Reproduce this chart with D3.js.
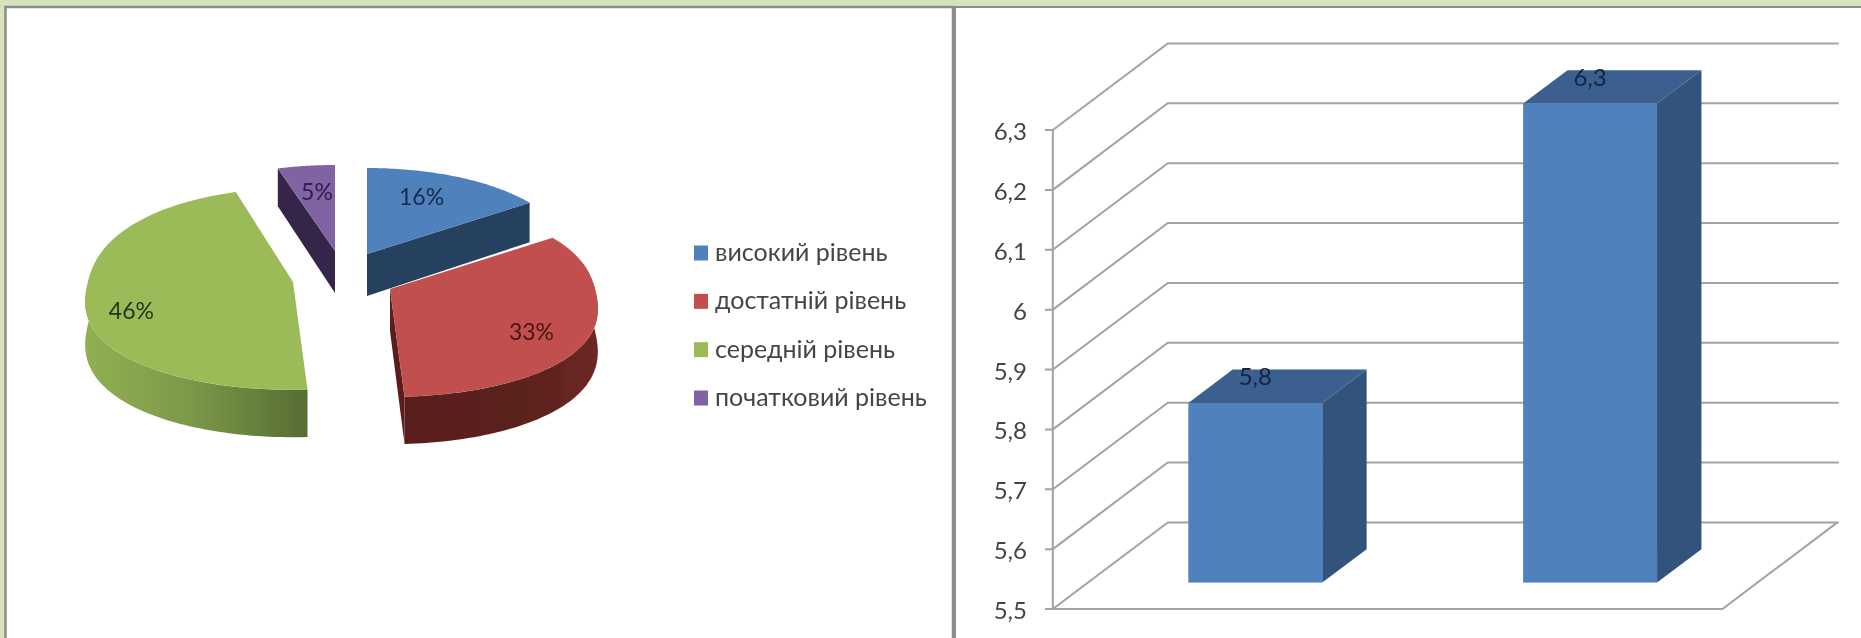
<!DOCTYPE html>
<html><head><meta charset="utf-8">
<script src="https://cdn.jsdelivr.net/npm/d3@7/dist/d3.min.js"></script>
<style>html,body{margin:0;padding:0;background:#d6e3bc;overflow:hidden}svg{display:block}text{font-family:Lato,sans-serif}</style>
</head><body><svg id="c" width="1861" height="638"></svg>
<script>
const pieLabels=["високий рівень","достатній рівень","середній рівень","початковий рівень"];
const pieValues=[16,33,46,5];
const pieText=["16%","33%","46%","5%"];
const pieColors=["#4f81bd","#c0504d","#9bbb59","#8064a2"];
const barCategories=["A","B"];
const barValues=[5.8,6.3];
const barText=["5,8","6,3"];
const axisTicks=[5.5,5.6,5.7,5.8,5.9,6,6.1,6.2,6.3];

const svg=d3.select("#c");
const defs=svg.append("defs");
defs.append("filter").attr("id","soft").attr("x","-5%").attr("y","-5%").attr("width","110%").attr("height","110%")
  .append("feGaussianBlur").attr("stdDeviation",0.75);
const grad=(id,stops)=>{const g=defs.append("linearGradient").attr("id",id);
  stops.forEach(s=>g.append("stop").attr("offset",s[0]).attr("stop-color",s[1]));};
grad("greenWall",[[0,"#91b052"],[0.45,"#7d9a49"],[1,"#556d33"]]);
grad("redWall",[[0,"#5a1f1b"],[0.6,"#5a201c"],[1,"#6e2825"]]);

// panels
svg.append("rect").attr("x",5.5).attr("y",7).attr("width",947.5).attr("height",640).attr("fill","#fff").attr("stroke","#8c8c8c").attr("stroke-width",2.5);
svg.append("rect").attr("x",955).attr("y",7).attr("width",920).attr("height",640).attr("fill","#fff").attr("stroke","#8c8c8c").attr("stroke-width",2);

const root=svg.append("g").attr("filter","url(#soft)");

// ---- pie ----
const RX=205,RY=95.7,P=0.113,DEPTH=42;
const apex=[[367,254],[390,289],[293,282],[335,251]];
const backGain=[1,1,1.09,1];
const arcs=d3.pie().sort(null)(pieValues);
function pt(i,a,r=1,drop=0){
  const u=r*Math.sin(a),c=r*Math.cos(a);
  const v=c>=0?Math.pow(c,0.9):-Math.pow(-c,0.8);
  const w=1+P*v;
  const gain=v>0?backGain[i]:1;
  return [apex[i][0]+RX*u/w, apex[i][1]-gain*RY*v/w+drop*DEPTH/w];
}
const line=d3.line();
function arcPts(i,a0,a1,drop=0){return d3.range(0,61).map(k=>pt(i,a0+(a1-a0)*k/60,1,drop));}
function radialWall(g,i,a,fill){
  const c=pt(i,a),d=pt(i,a,1,1),e=pt(i,0,0,1),f=pt(i,0,0,0);
  g.append("path").attr("d",line([f,c,d,e])+"Z").attr("fill",fill);
}
const order=[3,0,2,1];
order.forEach(i=>{
  const s=arcs[i], g=root.append("g");
  if(i===0) radialWall(g,i,s.endAngle,"#25405f");
  if(i===3) radialWall(g,i,s.startAngle,"#352649");
  if(i===1){
    radialWall(g,i,s.endAngle,"#5a1f1b");
    const a0=Math.PI/2-0.05,a1=s.endAngle;
    g.append("path").attr("d",line(arcPts(i,a0,a1).concat(arcPts(i,a1,a0,1)))+"Z").attr("fill","url(#redWall)");
  }
  if(i===2){
    const a0=s.startAngle,a1=Math.PI*1.5+0.05;
    g.append("path").attr("d",line(arcPts(i,a0,a1).concat(arcPts(i,a1,a0,1)))+"Z").attr("fill","url(#greenWall)");
  }
  g.append("path").attr("d",line([pt(i,0,0)].concat(arcPts(i,s.startAngle,s.endAngle)))+"Z").attr("fill",pieColors[i]);
});
const lblPos=[[421.6,197],[531.5,331.7],[131.4,310.7],[317,191.7]];
const lblCol=["#16294a","#4a1512","#24361a","#2c1d4b"];
root.selectAll(".pl").data(pieText).enter().append("text").attr("class","pl")
  .attr("x",(d,i)=>lblPos[i][0]).attr("y",(d,i)=>lblPos[i][1]+8).attr("text-anchor","middle")
  .attr("font-size",23).attr("fill",(d,i)=>lblCol[i]).text(d=>d);

// legend
const legY=d3.scalePoint().domain(pieLabels).range([253,398]);
pieLabels.forEach((t,i)=>{
  root.append("rect").attr("x",694).attr("y",legY(t)-7.5).attr("width",14).attr("height",15).attr("fill",pieColors[i]);
  root.append("text").attr("x",715).attr("y",legY(t)+8).attr("font-size",25).attr("fill","#454545").text(t);
});

// ---- 3D bars ----
const y=d3.scaleLinear().domain([5.5,6.3]).range([609,130]);
const x=d3.scaleBand().domain(barCategories).range([1052.8,1722.4]).paddingInner(0.6).paddingOuter(0.3);
const wallDx=115,wallDy=-86.6;
const backRight=1838.7;
const gl=root.append("g").attr("stroke","#a3a3a3").attr("stroke-width",2).attr("fill","none");
axisTicks.forEach(t=>{
  const p=y(t);
  gl.append("path").attr("d",line([[1045,p],[1052.8,p],[1052.8+wallDx,p+wallDy],[backRight,p+wallDy]]));
});
gl.append("path").attr("d",line([[1052.8,y(5.5)],[1052.8,y(6.3)]]));
gl.append("path").attr("d",line([[1052.8,y(5.5)],[1722.4,y(5.5)],[1722.4+wallDx,y(5.5)+wallDy]]));
root.selectAll(".tl").data(axisTicks).enter().append("text").attr("class","tl")
  .attr("x",1027).attr("y",d=>y(d)+10).attr("text-anchor","end").attr("font-size",24).attr("fill","#454545")
  .text(d=>String(d).replace(".",","));

const fr=0.305, dp=0.386; // bar placement within the floor depth
barCategories.forEach((c,i)=>{
  const x0=x(c)+wallDx*fr, x1=x0+x.bandwidth(), b=y(5.5)+wallDy*fr, t=y(barValues[i])+wallDy*fr;
  const dx=wallDx*dp, dy=wallDy*dp;
  const g=root.append("g");
  g.append("path").attr("d",line([[x1,t],[x1+dx,t+dy],[x1+dx,b+dy],[x1,b]])+"Z").attr("fill","#31527c");
  g.append("path").attr("d",line([[x0,t],[x0+dx,t+dy],[x1+dx,t+dy],[x1,t]])+"Z").attr("fill","#3b6090");
  g.append("rect").attr("x",x0).attr("y",t).attr("width",x.bandwidth()).attr("height",b-t).attr("fill","#4f81bd");
  g.append("text").attr("x",x0+x.bandwidth()/2).attr("y",t-18).attr("text-anchor","middle")
    .attr("font-size",24).attr("fill","#14233f").text(barText[i]);
});
</script></body></html>
